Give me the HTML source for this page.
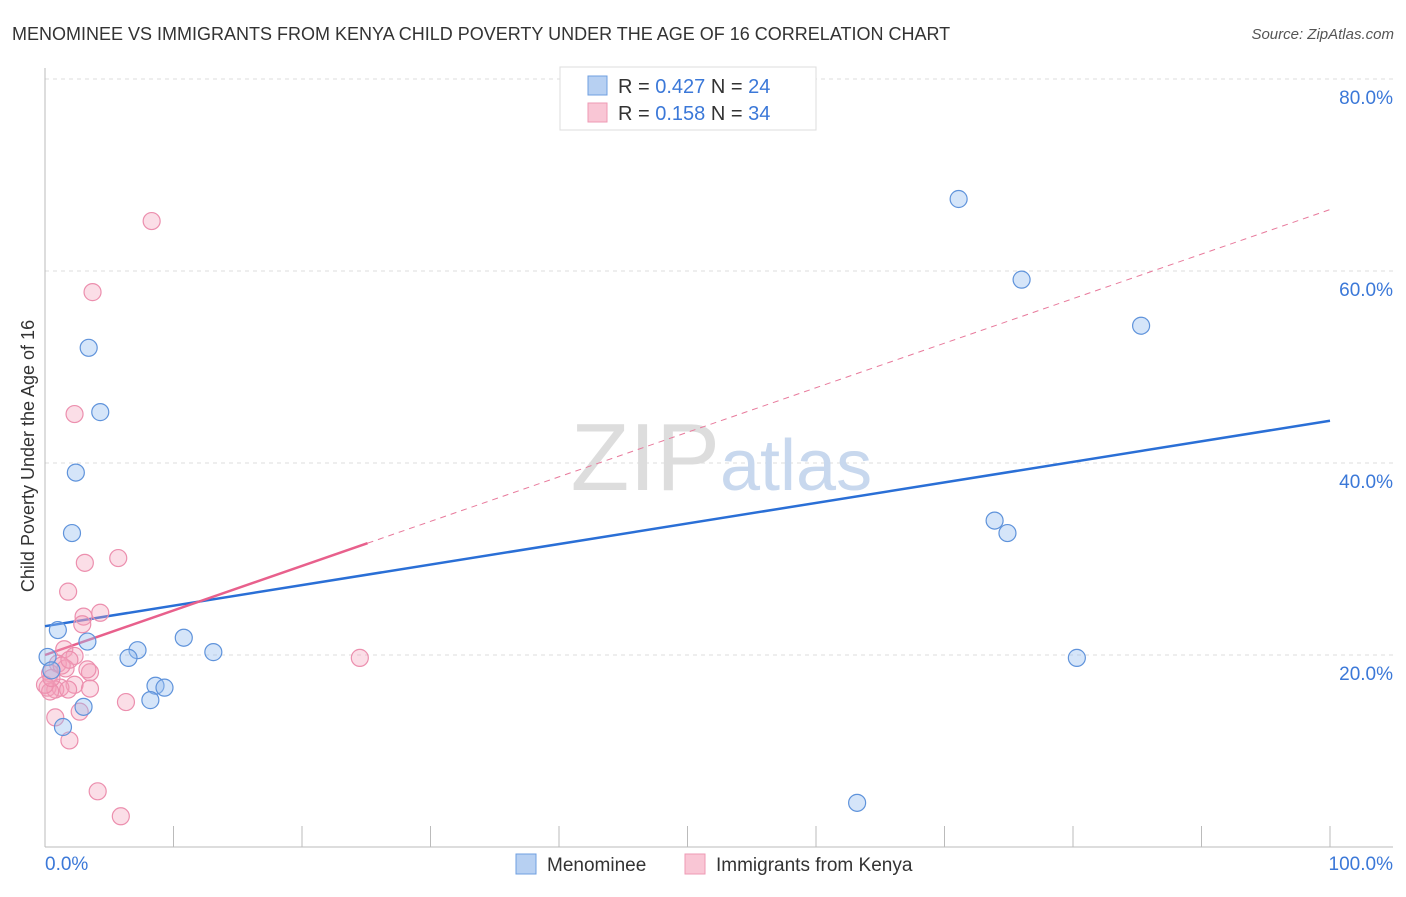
<!DOCTYPE html>
<html><head><meta charset="utf-8"><style>
body{margin:0;background:#fff;font-family:"Liberation Sans",sans-serif}
svg text{font-family:"Liberation Sans",sans-serif}
</style></head><body>
<svg id="c" width="1406" height="892" xmlns="http://www.w3.org/2000/svg">
<text x="12" y="40" font-size="18" fill="#333">MENOMINEE VS IMMIGRANTS FROM KENYA CHILD POVERTY UNDER THE AGE OF 16 CORRELATION CHART</text>
<text x="1394" y="39" font-size="15" fill="#555" font-style="italic" text-anchor="end">Source: ZipAtlas.com</text>
<text x="34" y="456" font-size="18" fill="#333" text-anchor="middle" transform="rotate(-90 34 456)">Child Poverty Under the Age of 16</text>
<g id="grid"></g>
<text x="720" y="490" font-size="96" fill="#ddd" text-anchor="end" font-family="Liberation Serif">ZIP</text>
<text x="720" y="490" font-size="72" fill="#c8d8ee">atlas</text>
<g id="lines"></g>
<g id="pts"></g>
<g>
<rect x="560" y="67" width="256" height="63" fill="#fff" stroke="#ddd"/>
<rect x="588" y="76" width="19" height="19" fill="#b7d0f2" stroke="#6f9fe0"/>
<rect x="588" y="103" width="19" height="19" fill="#f9c6d5" stroke="#ee9ab4"/>
<text x="618" y="93" font-size="20" fill="#333">R = <tspan fill="#3b78d8">0.427</tspan>   N = <tspan fill="#3b78d8">24</tspan></text>
<text x="618" y="120" font-size="20" fill="#333">R =  <tspan fill="#3b78d8">0.158</tspan>   N = <tspan fill="#3b78d8">34</tspan></text>
</g>
<g>
<rect x="516" y="854" width="20" height="20" fill="#b7d0f2" stroke="#6f9fe0"/>
<text x="547" y="871" font-size="19" fill="#333">Menominee</text>
<rect x="685" y="854" width="20" height="20" fill="#f9c6d5" stroke="#ee9ab4"/>
<text x="716" y="871" font-size="19" fill="#333">Immigrants from Kenya</text>
</g>
</svg>
<script>
const blueX=[71.1,76.0,85.3,73.9,74.9,80.3,63.2,3.4,4.3,2.4,2.1,1.0,3.3,7.2,6.5,10.8,13.1,8.6,9.3,8.2,3.0,1.4,0.2,0.5];
const blueY=[67.5,59.1,54.3,34.0,32.7,19.7,4.6,52.0,45.3,39.0,32.7,22.6,21.4,20.5,19.7,21.8,20.3,16.8,16.6,15.3,14.6,12.5,19.8,18.4];
const pinkX=[8.3,3.7,2.3,5.7,3.1,1.8,4.3,3.0,2.9,1.5,2.3,1.0,1.6,3.5,0.4,2.3,3.5,1.2,0.2,0.8,0.4,1.8,2.7,0.8,6.3,1.9,4.1,5.9,24.5,0,1.3,0.5,3.3,1.9];
const pinkY=[65.2,57.8,45.1,30.1,29.6,26.6,24.4,24.0,23.2,20.6,19.9,19.1,18.6,18.2,18.1,16.9,16.5,16.6,16.6,16.4,16.2,16.4,14.1,13.5,15.1,11.1,5.8,3.2,19.7,16.9,18.9,17.6,18.5,19.5];
const blueTrend=[23.0,44.4];
const pinkTrend=[20.0,66.4];
const pinkSolidEnd=25.1;
const yTicks=[20,40,60,80];
const xTicks=[0,10,20,30,40,50,60,70,80,90,100];
const NS="http://www.w3.org/2000/svg";
const X=v=>45+v*12.85, Y=v=>847-v*9.6;
function mk(t,a,p){const e=document.createElementNS(NS,t);for(const k in a)e.setAttribute(k,a[k]);document.getElementById(p).appendChild(e);return e;}
yTicks.forEach(t=>{
 const g=mk('line',{x1:45,x2:1393,y1:Y(t),y2:Y(t),stroke:'#ddd','stroke-dasharray':'4,4'},'grid');
 
 
 const l=mk('text',{x:1393,y:Y(t)+25,'font-size':19,fill:'#3b78d8','text-anchor':'end'},'grid');l.textContent=t.toFixed(1)+'%';
 
 
});
mk('line',{x1:45,x2:1393,y1:847,y2:847,stroke:'#bbb'},'grid');
mk('line',{x1:45,x2:45,y1:68,y2:847,stroke:'#bbb'},'grid');
xTicks.forEach(t=>{const e=mk('line',{x1:X(t),x2:X(t),y1:826,y2:847,stroke:'#bbb'},'grid');
 
 });
[[0,'0.0%','start',45],[100,'100.0%','end',1393]].forEach(a=>{const e=mk('text',{x:a[3],y:870,'font-size':19,fill:'#3b78d8','text-anchor':a[2]},'grid');e.textContent=a[1];
 
 });
let e=mk('line',{x1:X(pinkSolidEnd),y1:Y(pinkTrend[0]+(pinkTrend[1]-pinkTrend[0])*pinkSolidEnd/100),x2:X(100),y2:Y(pinkTrend[1]),stroke:'#e87a9c','stroke-width':1,'stroke-dasharray':'6,5'},'lines');


e=mk('line',{x1:X(0),y1:Y(blueTrend[0]),x2:X(100),y2:Y(blueTrend[1]),stroke:'#2a6fd6','stroke-width':2.5},'lines');


e=mk('line',{x1:X(0),y1:Y(pinkTrend[0]),x2:X(pinkSolidEnd),y2:Y(pinkTrend[0]+(pinkTrend[1]-pinkTrend[0])*pinkSolidEnd/100),stroke:'#e8608c','stroke-width':2.5},'lines');


pinkX.forEach((v,i)=>{const c=mk('circle',{cx:X(v),cy:Y(pinkY[i]),r:8.5,fill:'rgba(244,160,186,0.35)',stroke:'#ec8fae','stroke-width':1.2},'pts');
 
 });
blueX.forEach((v,i)=>{const c=mk('circle',{cx:X(v),cy:Y(blueY[i]),r:8.5,fill:'rgba(150,190,240,0.4)',stroke:'#5f93db','stroke-width':1.2},'pts');
 
 });
</script>
</body></html>
